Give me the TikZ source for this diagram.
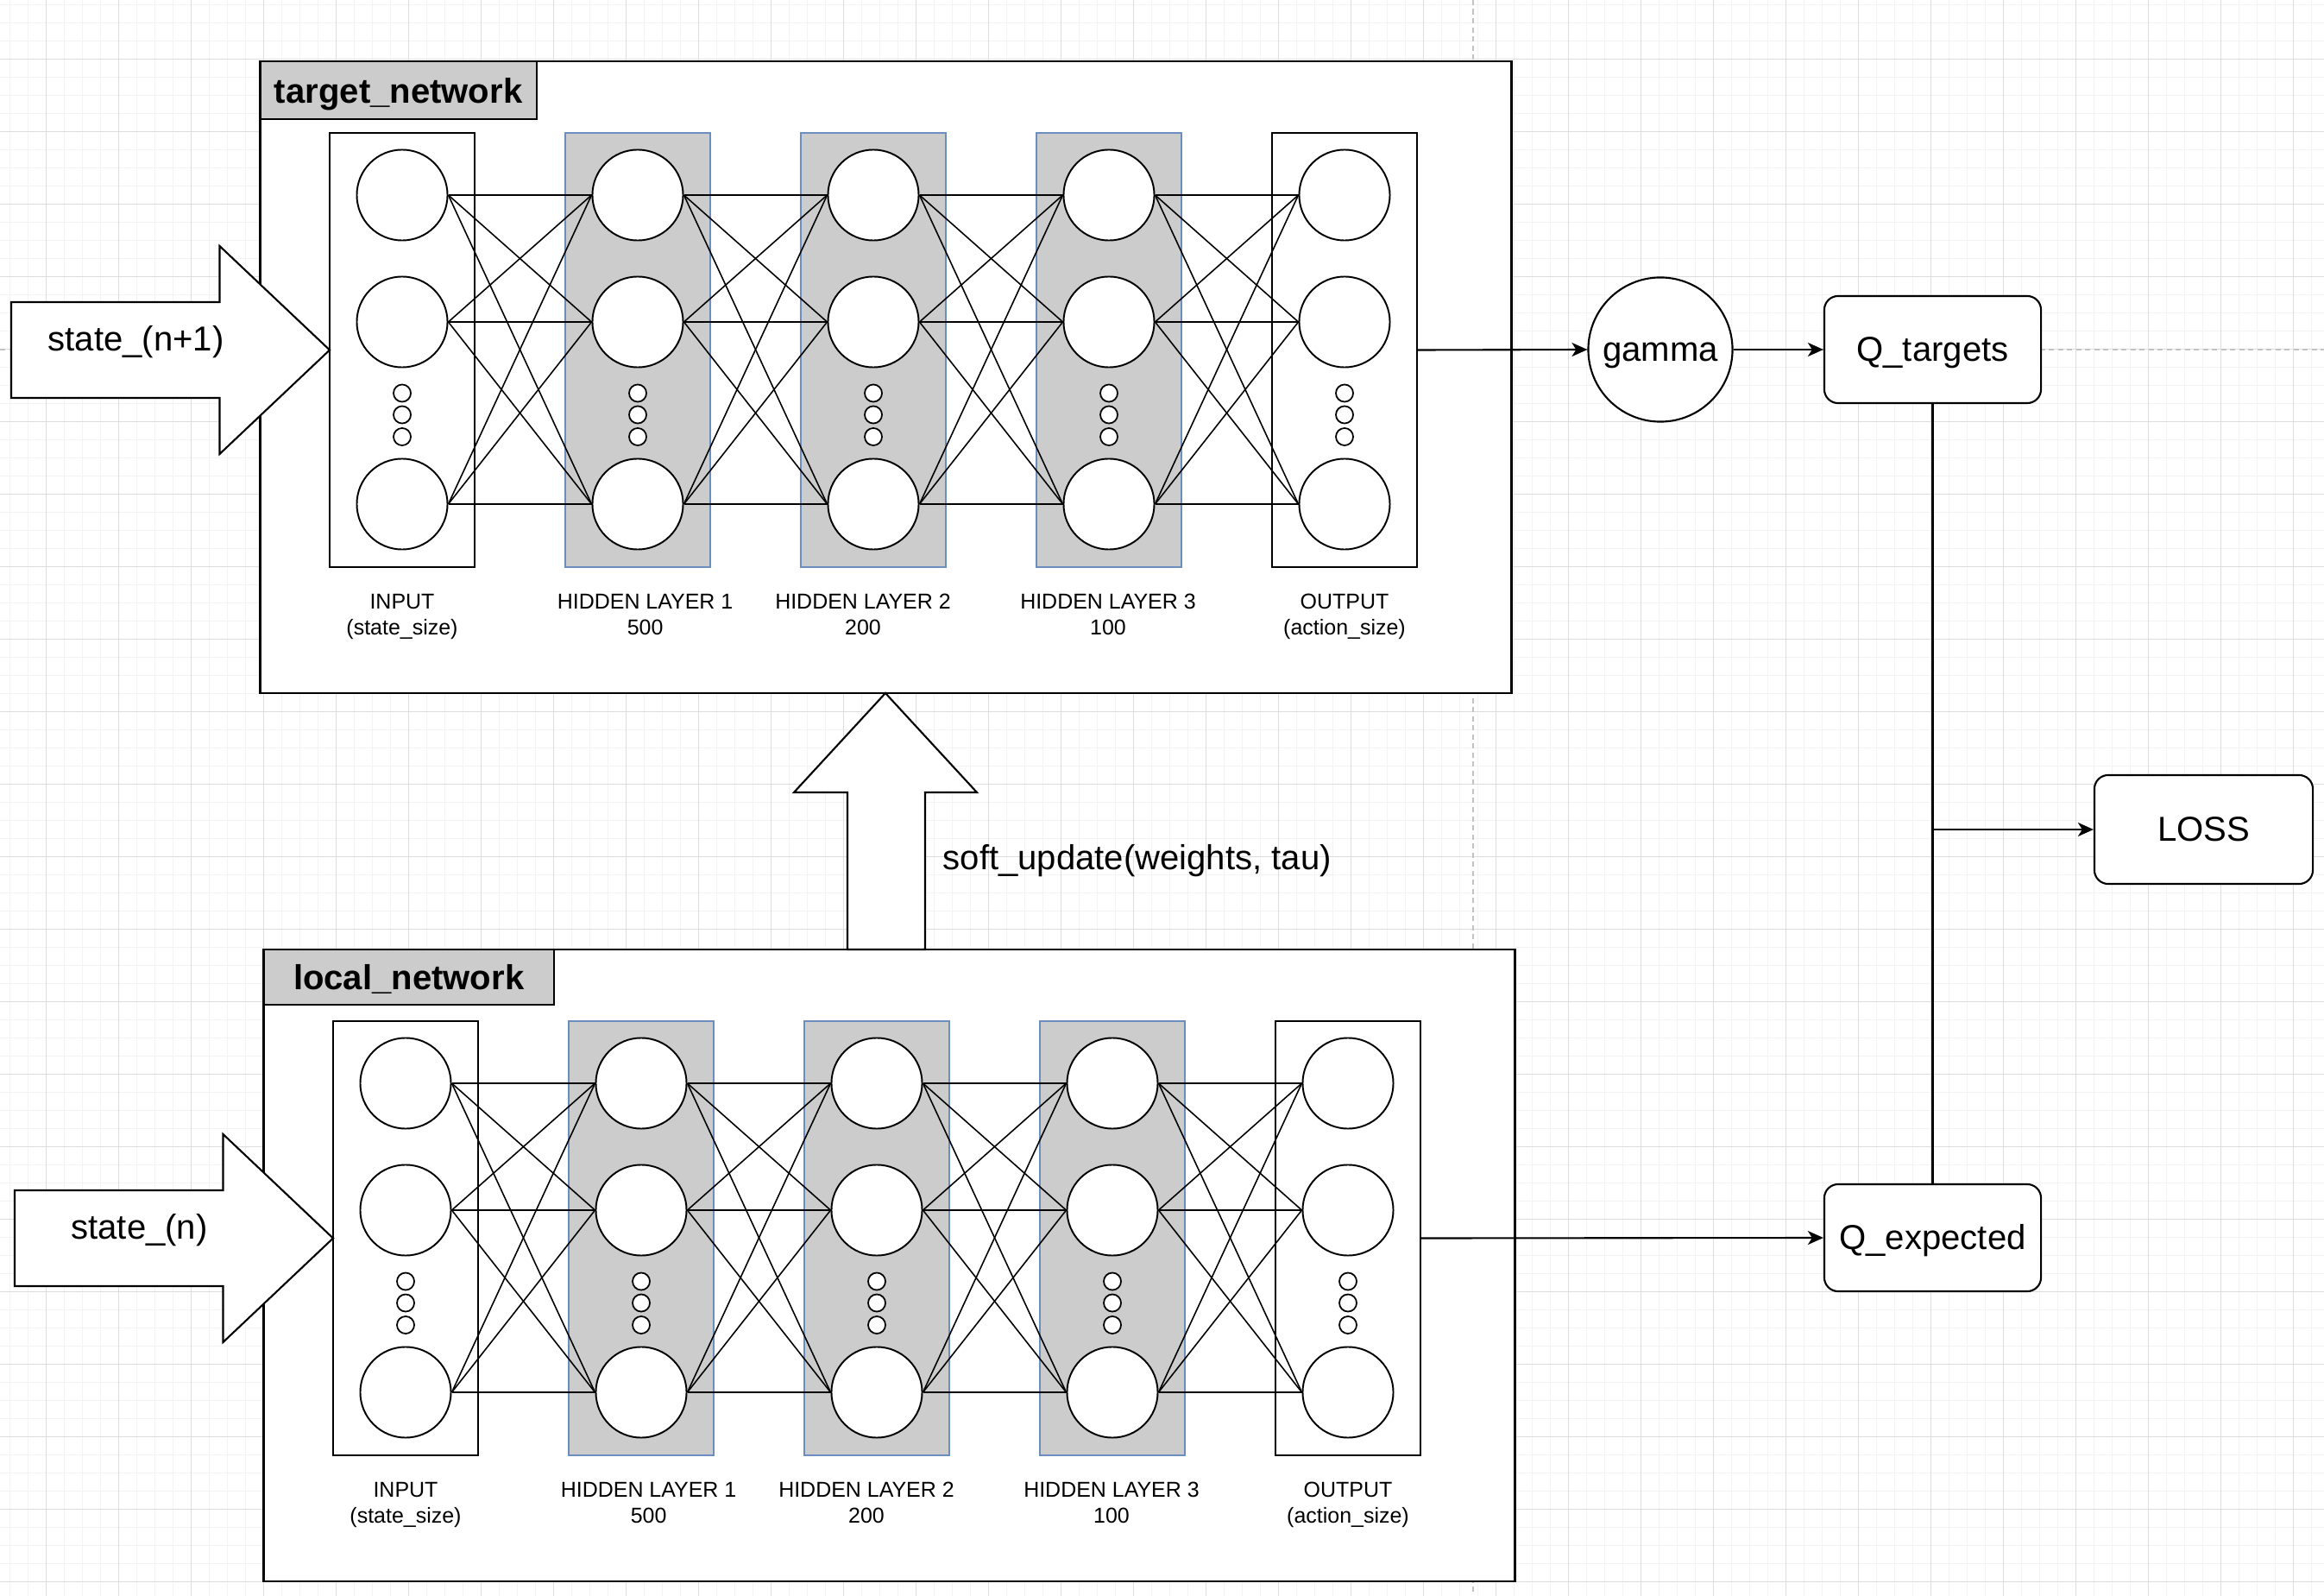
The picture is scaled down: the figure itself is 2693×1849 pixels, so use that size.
\documentclass[tikz,border=0pt]{standalone}
\usepackage{fontspec}
\setmainfont{Liberation Sans}
\usepackage{tikz}
\usetikzlibrary{arrows.meta,positioning}
\definecolor{grisCapa}{HTML}{CCCCCC}
\definecolor{azulCapa}{HTML}{6C8EBF}
\definecolor{rejillaMenor}{HTML}{F3F3F3}
\definecolor{rejillaMayor}{HTML}{DDDDDD}
\definecolor{corte}{HTML}{C2C2C2}

\begin{document}
\begin{tikzpicture}[x=0.01cm,y=-0.01cm,
		neurona/.style={circle,draw,line width=0.55pt,fill=white,minimum size=1.05cm,inner sep=0pt},
		puntos/.style={circle,draw,line width=0.5pt,fill=white,minimum size=0.2cm,inner sep=0pt},
		capa/.style={rectangle,draw,line width=0.55pt,fill=white,minimum width=1.68cm,minimum height=5.03cm,inner sep=0pt},
		oculta/.style={capa,draw=azulCapa,fill=grisCapa},
		marco/.style={rectangle,draw,line width=0.65pt,fill=white,minimum width=14.49cm,minimum height=7.32cm,inner sep=0pt},
		titulo/.style={rectangle,draw,line width=0.65pt,fill=grisCapa,inner sep=0pt,text height=0.37cm,text depth=0.074cm,font=\fontsize{11.4}{13.7}\selectfont\bfseries},
		rotulo/.style={inner sep=0pt,align=center,font=\fontsize{7.1}{8.5}\selectfont},
		texto/.style={inner sep=0pt,font=\fontsize{11.4}{13.7}\selectfont},
		circulo/.style={circle,draw,line width=0.6pt,fill=white,minimum size=1.67cm,inner sep=0pt,text height=0.34cm,text depth=0.08cm,font=\fontsize{11.4}{13.7}\selectfont},
		caja/.style={rectangle,draw,rounded corners=0.16cm,line width=0.6pt,fill=white,minimum width=2.51cm,minimum height=1.24cm,inner sep=0pt,text height=0.34cm,text depth=0.08cm,font=\fontsize{11.4}{13.7}\selectfont},
		bloque/.style={draw,line width=0.6pt,fill=white,line join=miter},
		conexion/.style={line width=0.45pt},
		flecha/.style={line width=0.6pt,-{Stealth[length=0.18cm,width=0.16cm,inset=0.05cm]}},
	]
	% Fondo y cuadricula
	\useasboundingbox (0,0) rectangle (2693,1849);
	\fill[white] (0,0) rectangle (2693,1849);
	\foreach \x in {11.3,32.3,...,2693}
		{
			\draw[rejillaMenor, line width=0.3pt] (\x,0) -- (\x,1849);
		}
	\foreach \y in {5.3,26.3,...,1849}
		{
			\draw[rejillaMenor, line width=0.3pt] (0,\y) -- (2693,\y);
		}
	\foreach \x in {53.3,137.3,...,2693}
		{
			\draw[rejillaMayor, line width=0.3pt] (\x,0) -- (\x,1849);
		}
	\foreach \y in {68.3,152.3,...,1849}
		{
			\draw[rejillaMayor, line width=0.3pt] (0,\y) -- (2693,\y);
		}

	% Saltos de pagina
	\draw[corte, line width=0.4pt, dash pattern=on 0.06cm off 0.045cm] (1707,0) -- (1707,1849);
	\draw[corte, line width=0.4pt, dash pattern=on 0.06cm off 0.045cm] (0,405) -- (2693,405);

	% Redes (target arriba, local abajo)
	\foreach \net/\dx/\dy/\nombre/\ancho/\alto/\entrada in
		{t/0/0/target\_network/3.2/0.67/state\_(n+1), l/4/1029/local\_network/3.36/0.64/state\_(n)}
		{
			\begin{scope}[shift={(\dx,\dy)}]
				\node[marco] (\net-marco) at (1026.5,437) {};
				\node[titulo, anchor=north west, minimum width=\ancho cm, minimum height=\alto cm] (\net-titulo) at (\net-marco.north west) {\nombre};

				% Capas
				\foreach \i/\estilo in {0/capa,1/oculta,2/oculta,3/oculta,4/capa}
					{
						\node[\estilo] (\net-c\i) at (466+273*\i,405.5) {};
						\foreach \k/\yy in {1/226,2/373,3/584}
							{
								\node[neurona] (\net-\i-\k) at (466+273*\i,\yy) {};
							}
						\foreach \k/\yy in {1/455.5,2/480.5,3/506}
							{
								\node[puntos] (\net-\i-p\k) at (466+273*\i,\yy) {};
							}
					}

				% Conexiones
				\foreach \i/\j in {0/1,1/2,2/3,3/4}
					{
						\foreach \p in {1,2,3}
							{
								\foreach \q in {1,2,3}
									{
										\draw[conexion] (\net-\i-\p.east) -- (\net-\j-\q.west);
									}
							}
					}

				% Nombres de capas
				\foreach \i/\dxl/\lin/\linb in {0/0/INPUT/(state\_size), 1/8.6/HIDDEN LAYER 1/500, 2/-12/HIDDEN LAYER 2/200, 3/-1/HIDDEN LAYER 3/100, 4/0/OUTPUT/(action\_size)}
					{
						\node[rotulo, anchor=north] (\net-e\i) at (466+273*\i+\dxl,687.3) {\lin\\\linb};
					}

				% Flecha de entrada
				\draw[bloque] (13,350) -- (254.5,350) -- (254.5,285) -- (382,405.5) -- (254.5,526) -- (254.5,461) -- (13,461) -- cycle;
				\node[texto, anchor=base] (\net-in) at (157.5,406.7) {\entrada};
			\end{scope}
		}

	% Actualizacion suave
	\draw[bloque] (982,1100) -- (982,918) -- (920,918) -- (1026,803) -- (1132,918) -- (1072,918) -- (1072,1100) -- cycle;
	\node[texto, anchor=base west] (suave) at (1092,1007) {soft\_update(weights, tau)};

	% Salidas y perdida
	\node[circulo] (gamma) at (1924,405) {gamma};
	\node[caja] (qtargets) at (2239.5,405) {Q\_targets};
	\node[caja] (qexpected) at (2239.5,1434) {Q\_expected};
	\node[caja, minimum width=2.53cm, minimum height=1.26cm] (loss) at (2553.5,961) {LOSS};
	\coordinate (union) at (qtargets.south |- loss.west);

	\draw[flecha] (t-c4.east) -- (gamma.west);
	\draw[flecha] (gamma) -- (qtargets);
	\draw[flecha] (l-c4.east) -- (qexpected.west);
	\draw[line width=0.6pt] (qtargets.south) -- (qexpected.north);
	\draw[flecha] (union) -- (loss);
\end{tikzpicture}
\end{document}
